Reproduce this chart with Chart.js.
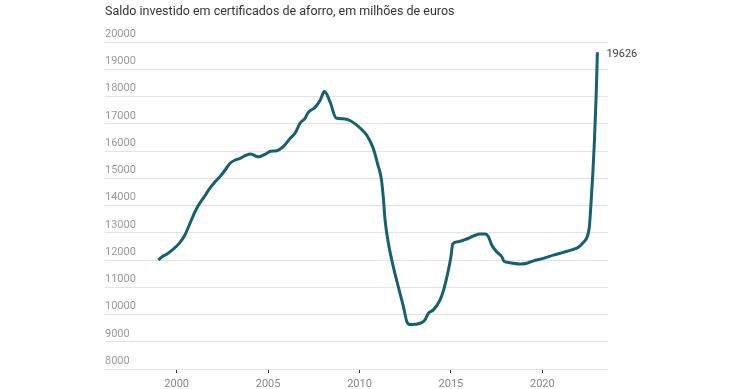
<!DOCTYPE html>
<html>
<head>
<meta charset="utf-8">
<script src="https://cdn.jsdelivr.net/npm/chart.js@4.4.1/dist/chart.umd.min.js"></script>
<style>
  html, body { margin: 0; padding: 0; background: #fff; }
  #wrap { width: 740px; height: 389px; position: relative; }
</style>
</head>
<body>
<div id="wrap"><canvas id="c" width="740" height="389"></canvas></div>
<script>
const chartTitle = "Saldo investido em certificados de aforro, em milhões de euros";
// time in decimal years
const periods = [1999.0,1999.2,1999.45,1999.8,2000.15,2000.45,2000.65,2000.82,2001.0,2001.2,2001.45,2001.75,
  2002.1,2002.37,2002.65,2002.92,2003.2,2003.47,2003.75,2004.05,2004.45,2004.83,2005.15,2005.47,2005.83,
  2006.2,2006.47,2006.75,2007.02,2007.2,2007.57,2007.84,2008.08,2008.4,2008.72,2009.1,2009.5,2009.85,
  2010.1,2010.4,2010.75,2011.0,2011.2,2011.3,2011.4,2011.58,2011.85,2012.12,2012.4,2012.6,2012.78,
  2013.04,2013.4,2013.58,2013.76,2014.04,2014.4,2014.6,2014.86,2015.0,2015.1,2015.4,2015.86,2016.23,
  2016.6,2016.87,2017.05,2017.23,2017.5,2017.78,2017.9,2018.23,2018.78,2019.15,2019.51,2020.06,2020.6,
  2021.15,2021.61,2021.97,2022.24,2022.46,2022.57,2022.65,2022.76,2022.85,2022.94,2023.01];
const saldo = [12000,12120,12210,12390,12620,12920,13220,13490,13770,14020,14260,14570,
  14870,15060,15300,15550,15670,15730,15830,15890,15790,15880,15990,16010,16160,
  16460,16650,17020,17200,17420,17600,17850,18180,17780,17210,17180,17110,16950,
  16800,16580,16100,15500,14950,14300,13450,12610,11750,11020,10290,9720,9630,
  9640,9700,9800,10040,10170,10530,10900,11630,12120,12590,12670,12770,12880,
  12950,12950,12850,12550,12300,12120,11960,11900,11850,11880,11970,12060,12180,
  12280,12370,12470,12640,12860,13220,13960,15180,16400,17990,19626];
const xTickYears = [2000, 2005, 2010, 2015, 2020];
const yMin = 8000, yMax = 20000, yStep = 1000;

const points = periods.map((p, i) => ({ x: p, y: saldo[i] }));

const titlePlugin = {
  id: 'topTitle',
  afterDraw(chart) {
    const ctx = chart.ctx;
    ctx.save();
    ctx.font = '12.5px Roboto';
    ctx.fillStyle = '#333';
    ctx.textBaseline = 'middle';
    ctx.textAlign = 'left';
    ctx.fillText(chartTitle, chart.chartArea.left, 12);
    ctx.restore();
  }
};
const endLabelPlugin = {
  id: 'endLabel',
  afterDatasetsDraw(chart) {
    const meta = chart.getDatasetMeta(0);
    const last = meta.data[meta.data.length - 1];
    const ctx = chart.ctx;
    ctx.save();
    ctx.font = '11px Roboto';
    ctx.fillStyle = '#444';
    ctx.textBaseline = 'middle';
    ctx.textAlign = 'left';
    ctx.fillText(String(saldo[saldo.length - 1]), last.x + 9, last.y + 2);
    ctx.restore();
  }
};

new Chart(document.getElementById('c'), {
  type: 'line',
  data: {
    datasets: [{
      data: points,
      borderColor: '#17606f',
      borderWidth: 3,
      pointRadius: 0,
      fill: false,
      cubicInterpolationMode: 'monotone'
    }]
  },
  options: {
    responsive: false,
    animation: false,
    devicePixelRatio: 1,
    layout: { padding: { left: 105, right: 132, top: 42, bottom: 0 } },
    plugins: { legend: { display: false }, tooltip: { enabled: false } },
    scales: {
      x: {
        type: 'linear',
        min: 1996.08,
        max: 2023.59,
        afterBuildTicks(scale) { scale.ticks = xTickYears.map(v => ({ value: v })); },
        afterFit(scale) { scale.height = 20; },
        border: { display: false },
        grid: { drawOnChartArea: false, drawTicks: true, tickLength: 4, color: '#333', lineWidth: 1 },
        ticks: {
          color: '#888', font: { family: 'Roboto', size: 11 }, padding: 5,
          maxRotation: 0, autoSkip: false,
          callback: v => String(v)
        }
      },
      y: {
        min: yMin, max: yMax,
        afterFit(scale) { scale.width = 0; },
        border: { display: false },
        grid: { color: '#e3e3e3', lineWidth: 1, drawTicks: false },
        ticks: {
          stepSize: yStep, mirror: true, padding: 0, labelOffset: -8,
          color: '#9a9a9a', font: { family: 'Roboto', size: 11 },
          callback: v => String(v)
        }
      }
    }
  },
  plugins: [titlePlugin, endLabelPlugin]
});
</script>
</body>
</html>
